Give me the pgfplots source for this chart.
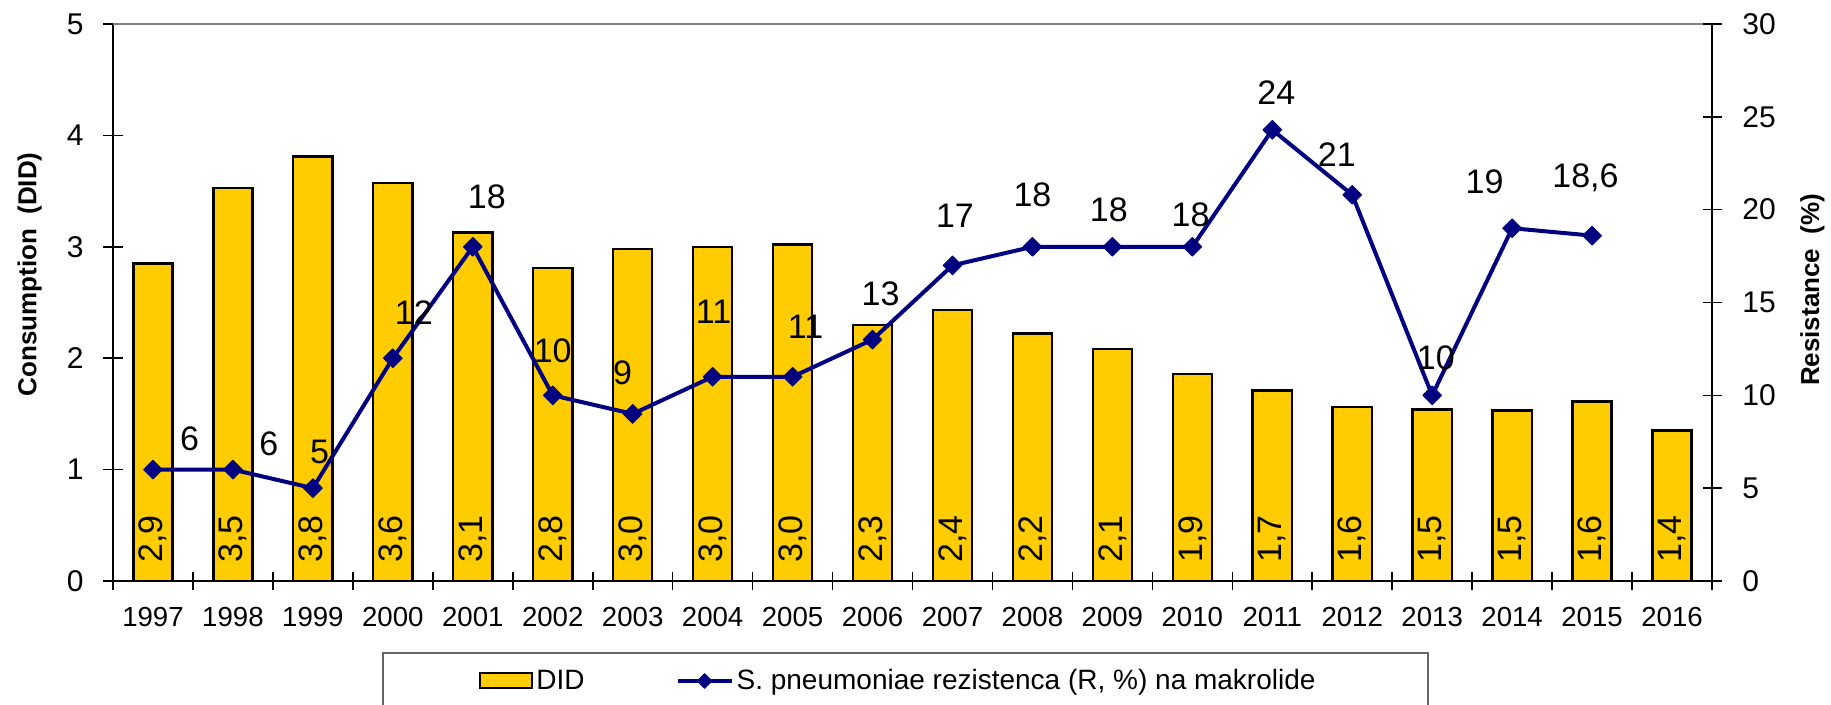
\documentclass[border=0pt]{standalone}
\usepackage{pgfplots}
\pgfplotsset{compat=1.18}
\usepackage{pgfplotstable}
\usepackage{fontspec}
\setmainfont{Liberation Sans}
\definecolor{barcol}{HTML}{FFCC00}
\definecolor{navy}{HTML}{000080}

\pgfplotsset{
  barleg/.style={legend image code/.code={\draw[##1] (0pt,-3.75pt) rectangle (26pt,3.75pt);}},
  lineleg/.style={legend image code/.code={\draw[##1, mark=none] (0pt,0pt) -- (27pt,0pt); \draw[##1, mark size=2.6pt] plot coordinates {(13.5pt,0pt)};}},
}

\pgfplotstableread{
x val lab
0 2.85 2,9
1 3.53 3,5
2 3.81 3,8
3 3.57 3,6
4 3.13 3,1
5 2.81 2,8
6 2.98 3,0
7 3.00 3,0
8 3.02 3,0
9 2.30 2,3
10 2.43 2,4
11 2.22 2,2
12 2.08 2,1
13 1.86 1,9
14 1.71 1,7
15 1.56 1,6
16 1.54 1,5
17 1.53 1,5
18 1.61 1,6
19 1.35 1,4
}\bardata

\pgfplotstableread{
x val lab dx dy
0 6 6 18.3 15.5
1 6 6 18 13
2 5 5 3.3 18.3
3 12 12 10.5 23
4 18 18 7 25
5 10 10 0 22.5
6 9 9 -5 20.5
7 11 11 0.5 32.5
8 11 11 6.5 25
9 13 13 4 23
10 17 17 1.25 25
11 18 18 0 26
12 18 18 -1.8 18.5
13 18 18 -0.9 16
14 24.3 24 2 18.5
15 20.8 21 -7.7 20
16 10 10 1.8 19
17 19 19 -13.8 23.3
18 18.6 18,6 -3.3 29
}\linedata

\begin{document}
\begin{tikzpicture}
\begin{axis}[
  at={(0pt,0pt)}, anchor=south west,
  scale only axis, width=799.5pt, height=278.5pt,
  xmin=-0.5, xmax=19.5, ymin=0, ymax=5,
  axis y line*=left, axis x line*=bottom,
  axis line style={black, line width=0.8pt},
  clip=false,
  tick align=center,
  major tick length=10pt, minor tick length=9pt,
  tick style={black, line width=0.8pt},
  major x tick style={draw=none},
  xtick={0,...,19},
  xticklabels={1997,1998,1999,2000,2001,2002,2003,2004,2005,2006,2007,2008,2009,2010,2011,2012,2013,2014,2015,2016},
  minor xtick={-0.5,0.5,...,19.5},
  ytick={0,1,2,3,4,5},
  /pgf/number format/assume math mode=true,
  xticklabel style={font=\fontsize{13.8}{16}\selectfont, anchor=north, inner sep=0pt, yshift=-7.8pt},
  yticklabel style={font=\fontsize{15}{17}\selectfont, anchor=east, inner sep=0pt, xshift=-9.5pt},
  ylabel={Consumption\hspace{0.55em}(DID)},
  every axis y label/.style={at={(axis description cs:-0.0522,0.5503)}, rotate=90, anchor=center, font=\bfseries\fontsize{13}{15}\selectfont},
]
\draw[gray, line width=0.8pt] (rel axis cs:0,1) -- (rel axis cs:1,1);
\addplot[ybar, bar width=0.49, fill=barcol, draw=black, line width=1.2pt] table[x=x, y=val] {\bardata};
\addplot[draw=none, mark=none, nodes near coords, point meta=explicit symbolic,
  every node near coord/.append style={anchor=west, rotate=90, inner xsep=9pt, inner ysep=0pt, font=\fontsize{17}{19}\selectfont, text=black}]
  table[x=x, y expr=0, meta=lab] {\bardata};
\end{axis}
\begin{axis}[
  at={(0pt,0pt)}, anchor=south west,
  scale only axis, width=799.5pt, height=278.5pt,
  xmin=-0.5, xmax=19.5, ymin=0, ymax=30,
  axis y line*=right, axis x line=none,
  axis line style={black, line width=0.8pt},
  clip=false,
  tick align=center,
  major tick length=9.5pt,
  tick style={black, line width=0.8pt},
  ytick={0,5,...,30},
  /pgf/number format/assume math mode=true,
  yticklabel style={font=\fontsize{15}{17}\selectfont, anchor=west, inner sep=0pt, xshift=10.25pt},
  ylabel={Resistance\hspace{0.55em}(\%)},
  every axis y label/.style={at={(axis description cs:1.0628,0.5225)}, rotate=90, anchor=center, font=\bfseries\fontsize{13}{15}\selectfont},
  legend columns=2,
  legend style={draw=none, fill=none, inner sep=0pt, at={(axis description cs:0.2289,-0.1795)}, anchor=west,
    font=\fontsize{14}{16}\selectfont, nodes={inner sep=1.5pt},
    /tikz/every even column/.append style={column sep=44pt}},
]
\addlegendimage{fill=barcol, draw=black, line width=1pt, barleg}
\addlegendentry{DID}
\addplot[navy, line width=2pt, line join=round, mark=square*, mark size=3.3pt,
  mark options={rotate=45, solid, line width=0.5pt, fill=navy},
  visualization depends on={\thisrow{dx} \as \labdx},
  visualization depends on={\thisrow{dy} \as \labdy},
  nodes near coords, point meta=explicit symbolic,
  every node near coord/.append style={anchor=center, xshift=\labdx pt, yshift=\labdy pt, font=\fontsize{17}{19}\selectfont, text=black, inner sep=0pt},
  lineleg
  ] table[x=x, y=val, meta=lab] {\linedata};
\addlegendentry{S. pneumoniae rezistenca (R, \%) na makrolide}
\end{axis}
\draw[gray!80!black, line width=0.8pt] (135pt,-36pt) rectangle (657.5pt,-70pt);
\pgfresetboundingbox
\path[use as bounding box] (-56.5pt,-62pt) rectangle (859pt,290.5pt);
\end{tikzpicture}
\end{document}
